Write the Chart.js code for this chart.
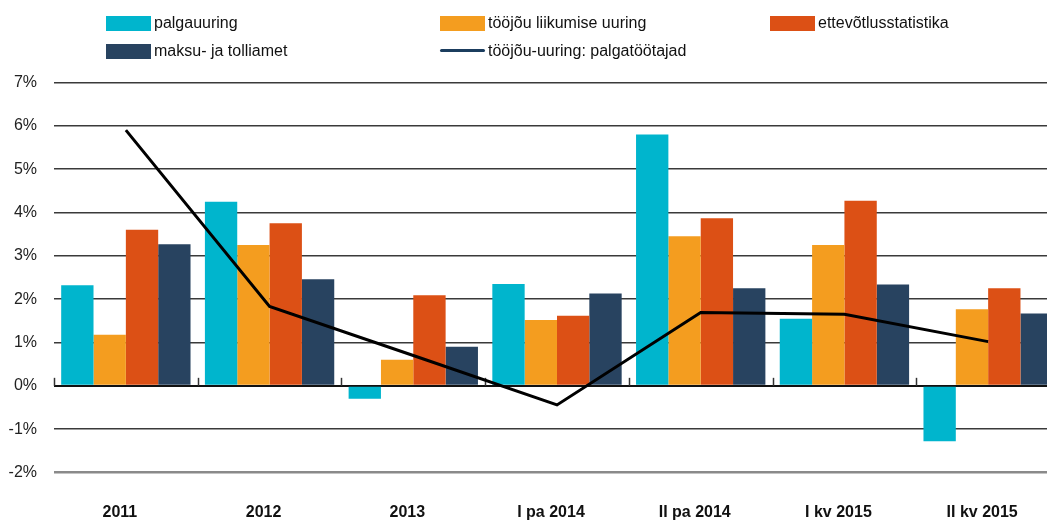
<!DOCTYPE html>
<html>
<head>
<meta charset="utf-8">
<script src="https://cdn.jsdelivr.net/npm/chart.js@4"></script>
<style>
  html, body { margin: 0; padding: 0; background: #fff; overflow: hidden; }
  #wrap { position: relative; width: 1060px; height: 521px; }
  #legend { position: absolute; left: 0; top: 0; width: 1047px; height: 70px;
            font: 16px Helvetica, "Liberation Sans", Arial, sans-serif; color: #111; }
  .item { position: absolute; display: flex; align-items: center; white-space: nowrap; }
  .swatch { width: 45px; height: 15px; margin-right: 3px; }
  .swatch.line { height: 3px; border-radius: 2px; margin-top: -2px; }
</style>
</head>
<body>
<div id="wrap">
  <canvas id="chart" width="1060" height="521"></canvas>
  <div id="legend"></div>
</div>
<script>
const categories = ["2011", "2012", "2013", "I pa 2014", "II pa 2014", "I kv 2015", "II kv 2015"];
const palgauuring = [2.32, 4.25, -0.3, 2.35, 5.8, 1.55, -1.28];
const tooliikumine = [1.18, 3.25, 0.6, 1.52, 3.45, 3.25, 1.77];
const ettevotlus = [3.6, 3.75, 2.09, 1.62, 3.87, 4.27, 2.25];
const maksuamet = [3.27, 2.46, 0.9, 2.13, 2.25, 2.34, 1.67];
const palgatootajad = [5.9, 1.83, 0.7, -0.44, 1.69, 1.65, 1.02];
const yTicks = [-2, -1, 0, 1, 2, 3, 4, 5, 6, 7];

const FONT = 'Helvetica, "Liberation Sans", Arial, sans-serif';

// legend: 3 columns, 2 rows (html, same order as the original)
const legendItems = [
  { label: "palgauuring", color: "#00b5cd", col: 0, row: 0 },
  { label: "tööjõu liikumise uuring", color: "#f49d1f", col: 1, row: 0 },
  { label: "ettevõtlusstatistika", color: "#dc5015", col: 2, row: 0 },
  { label: "maksu- ja tolliamet", color: "#284360", col: 0, row: 1 },
  { label: "tööjõu-uuring: palgatöötajad", color: "#1b3d5e", col: 1, row: 1, line: true }
];
const colX = [106, 440, 770];
const rowY = [14, 42];
const legend = document.getElementById("legend");
legendItems.forEach(it => {
  const el = document.createElement("div");
  el.className = "item";
  el.style.left = colX[it.col] + "px";
  el.style.top = rowY[it.row] + "px";
  el.innerHTML = `<span class="swatch${it.line ? " line" : ""}" style="background:${it.color}"></span><span>${it.label}</span>`;
  legend.appendChild(el);
});

// small tick marks on the zero line between categories
const zeroTicks = {
  id: "zeroTicks",
  beforeDatasetsDraw(chart) {
    const { ctx, scales: { x, y } } = chart;
    const y0 = y.getPixelForValue(0);
    const half = (x.getPixelForValue(1) - x.getPixelForValue(0)) / 2;
    ctx.save();
    ctx.strokeStyle = "#333";
    ctx.lineWidth = 1.5;
    for (let i = 0; i < categories.length; i++) {
      const px = Math.round(x.getPixelForValue(i) - half) + 0.5;
      ctx.beginPath();
      ctx.moveTo(px, y0);
      ctx.lineTo(px, y0 - 8);
      ctx.stroke();
    }
    ctx.restore();
  }
};

const barDs = (label, data, color) => ({
  type: "bar", label, data, backgroundColor: color, borderWidth: 0,
  categoryPercentage: 0.9, barPercentage: 1.0, order: 1
});

new Chart(document.getElementById("chart"), {
  data: {
    labels: categories,
    datasets: [
      {
        type: "line", label: "tööjõu-uuring: palgatöötajad", data: palgatootajad,
        borderColor: "#000", borderWidth: 3, pointRadius: 0, tension: 0, order: 0
      },
      barDs("palgauuring", palgauuring, "#00b5cd"),
      barDs("tööjõu liikumise uuring", tooliikumine, "#f49d1f"),
      barDs("ettevõtlusstatistika", ettevotlus, "#dc5015"),
      barDs("maksu- ja tolliamet", maksuamet, "#284360")
    ]
  },
  options: {
    responsive: false,
    animation: false,
    layout: { padding: { left: 8, top: 82.5, right: 0, bottom: 0 } },
    plugins: { legend: { display: false }, tooltip: { enabled: false } },
    scales: {
      x: {
        grid: { display: false, drawTicks: false },
        border: { display: false },
        ticks: {
          color: "#111", font: { family: FONT, size: 16, weight: "bold" },
          padding: 30, labelOffset: -6, maxRotation: 0, autoSkip: false
        },
        afterFit: s => { s.height = 48.5; }
      },
      y: {
        min: yTicks[0], max: yTicks[yTicks.length - 1],
        afterBuildTicks: s => { s.ticks = yTicks.map(v => ({ value: v })); },
        grid: {
          drawTicks: false,
          color: c => c.tick.value === 0 ? "#111" : (c.tick.value === -2 ? "#8a8a8a" : "#3a3a3a"),
          lineWidth: c => c.tick.value === 0 ? 2 : (c.tick.value === -2 ? 2.5 : 1.5)
        },
        border: { display: false },
        ticks: {
          color: "#222", font: { family: FONT, size: 16 }, padding: 17,
          callback: v => v + "%"
        },
        afterFit: s => { s.width = 46; }
      }
    }
  },
  plugins: [zeroTicks]
});
</script>
</body>
</html>
